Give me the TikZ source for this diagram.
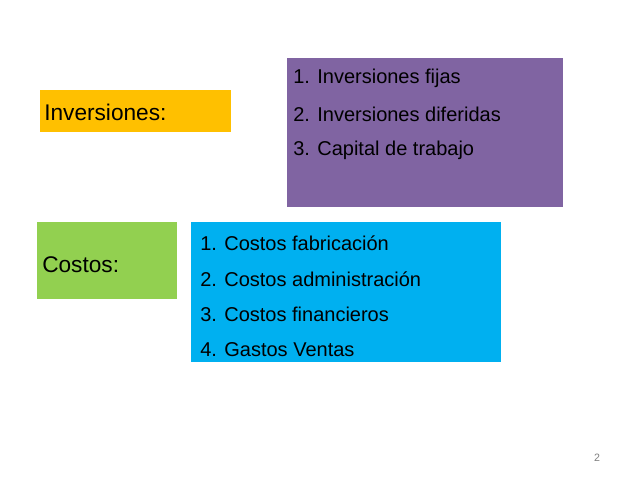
\documentclass[tikz,border=0pt]{standalone}
\usepackage{fontspec}
\setmainfont{Liberation Sans}
\definecolor{cyel}{HTML}{FFC000}
\definecolor{cpur}{HTML}{8064A2}
\definecolor{cgrn}{HTML}{92D050}
\definecolor{cblu}{HTML}{00B0F0}
\begin{document}
\begin{tikzpicture}[x=0.75pt,y=-0.75pt,
  box/.style={inner sep=0pt,outer sep=0pt},
  big/.style={anchor=west,font=\fontsize{17}{20}\selectfont,inner sep=0pt},
  item/.style={anchor=west,font=\fontsize{15}{18}\selectfont,inner sep=0pt}]
\useasboundingbox[fill=white] (0,0) rectangle (638,479);
\fill[cyel] (40,90) rectangle (231,132);
\fill[cpur] (287,58) rectangle (563,207);
\fill[cgrn] (37,222) rectangle (177,299);
\fill[cblu] (191,222) rectangle (501,362);
\node[big] (inv) at (44,112) {Inversiones:};
\node[big] (cos) at (42,265) {Costos:};
\node[item] (p1) at (293,78) {1. Inversiones fijas};
\node[item] (p2) at (293,114) {2. Inversiones diferidas};
\node[item] (p3) at (293,150) {3. Capital de trabajo};
\node[item] (b1) at (200,243) {1. Costos fabricación};
\node[item] (b2) at (200,279) {2. Costos administración};
\node[item] (b3) at (200,314) {3. Costos financieros};
\node[item] (b4) at (200,350) {4. Gastos Ventas};
\node[font=\fontsize{8}{10}\selectfont,text=gray,inner sep=0pt] (pg) at (597,458) {2};
\end{tikzpicture}
\end{document}
